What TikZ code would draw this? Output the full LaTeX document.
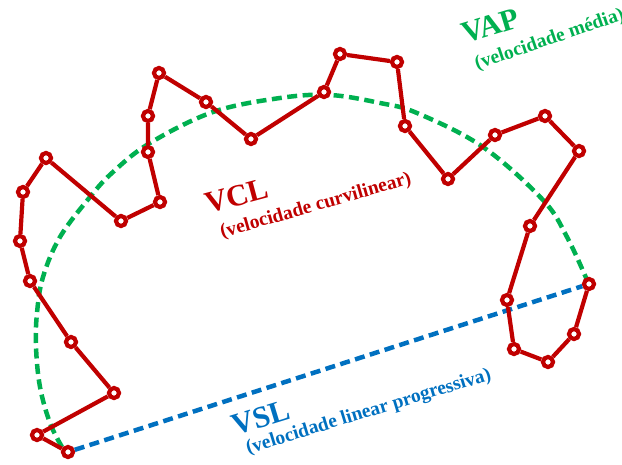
\documentclass[tikz,border=0pt]{standalone}
\usepackage{fontspec}
\setmainfont{Liberation Serif}
\definecolor{pathred}{HTML}{C00000}
\definecolor{apgreen}{HTML}{00B050}
\definecolor{slblue}{HTML}{0070C0}
\begin{document}
\begin{tikzpicture}[x=1pt,y=-1pt,
  pt/.style={circle,draw=pathred,fill=white,line width=4.2pt,inner sep=0pt,minimum size=10pt},
  track/.style={draw=pathred,line width=4.2pt,line join=round},
  avgpath/.style={draw=apgreen,line width=4.5pt,dash pattern=on 10pt off 5.5pt},
  straight/.style={draw=slblue,line width=4.5pt,dash pattern=on 10pt off 5.5pt},
  bigtag/.style={font=\bfseries\fontsize{30.5}{32}\selectfont,anchor=base west,inner sep=0pt},
  smalltag/.style={font=\bfseries\fontsize{19.5}{21}\selectfont,anchor=base west,inner sep=0pt}]
\useasboundingbox (0,0) rectangle (622,464);

% average path (dashed arc)
\draw[avgpath] plot[smooth,tension=0.6] coordinates {
  (62,447) (50,423) (40,387) (36,347) (37,313) (43,277) (60,237) (90,197)
  (113,172) (150,143) (213,112) (280,98) (330,95) (380,103) (417,113)
  (483,147) (543,200) (567,237) (587,280)};

% track points
\node[pt] (p1)  at (68,452) {};
\node[pt] (p2)  at (37,435) {};
\node[pt] (p3)  at (114,393) {};
\node[pt] (p4)  at (71,342) {};
\node[pt] (p5)  at (30,281) {};
\node[pt] (p6)  at (20,241) {};
\node[pt] (p7)  at (23,192) {};
\node[pt] (p8)  at (46,158) {};
\node[pt] (p9)  at (121,221) {};
\node[pt] (p10) at (160,202) {};
\node[pt] (p11) at (148,152) {};
\node[pt] (p12) at (148,116) {};
\node[pt] (p13) at (159,73) {};
\node[pt] (p14) at (206,102) {};
\node[pt] (p15) at (251,139) {};
\node[pt] (p16) at (324,92) {};
\node[pt] (p17) at (340,54) {};
\node[pt] (p18) at (397,62) {};
\node[pt] (p19) at (405,126) {};
\node[pt] (p20) at (448,179) {};
\node[pt] (p21) at (495,135) {};
\node[pt] (p22) at (545,116) {};
\node[pt] (p23) at (579,151) {};
\node[pt] (p24) at (530,226) {};
\node[pt] (p25) at (507,300) {};
\node[pt] (p26) at (514,349) {};
\node[pt] (p27) at (548,362) {};
\node[pt] (p28) at (574,334) {};
\node[pt] (p29) at (589,284) {};

% straight line from start to end
\draw[straight] (p1) -- (p29);

% curvilinear track
\draw[track] (p1) -- (p2) -- (p3) -- (p4) -- (p5) -- (p6) -- (p7) -- (p8)
  -- (p9) -- (p10) -- (p11) -- (p12) -- (p13) -- (p14) -- (p15) -- (p16)
  -- (p17) -- (p18) -- (p19) -- (p20) -- (p21) -- (p22) -- (p23) -- (p24)
  -- (p25) -- (p26) -- (p27) -- (p28) -- (p29);

% labels
\node[bigtag,text=pathred,rotate=15] (vcl) at (208,214) {VCL};
\node[smalltag,text=pathred,rotate=16] (vcls) at (222,238) {(velocidade curvilinear)};
\node[bigtag,text=apgreen,rotate=17] (vap) at (465,44) {VAP};
\node[smalltag,text=apgreen,rotate=19] (vaps) at (477,70) {(velocidade média)};
\node[bigtag,text=slblue,rotate=17] (vsl) at (235,436) {VSL};
\node[smalltag,text=slblue,rotate=17] (vsls) at (248,454) {(velocidade linear progressiva)};
\end{tikzpicture}
\end{document}
